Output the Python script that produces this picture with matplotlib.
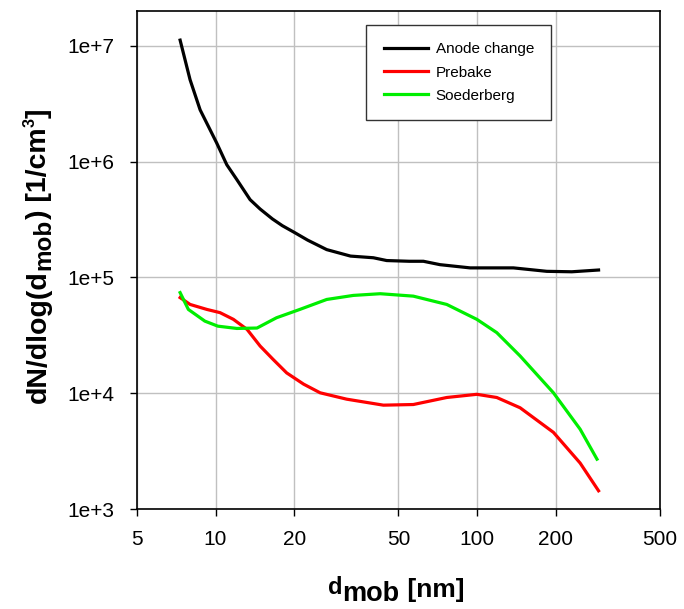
import matplotlib
matplotlib.use("Agg")
import matplotlib.pyplot as plt
from matplotlib.transforms import IdentityTransform

plt.rcParams['font.family'] = ['Liberation Sans', 'DejaVu Sans']

# data
anode_x = [7.32, 7.99, 8.73, 10.1, 11.04, 12.06, 13.55, 14.8, 16.5, 18.0, 20.0, 22.5,
           26.6, 32.8, 40.1, 45.1, 55.0, 62.3, 72.1, 94.0, 137.6, 184.5, 230.0, 291.0]
anode_y = [1.12e7, 5.1e6, 2.8e6, 1.45e6, 9.4e5, 7.0e5, 4.7e5, 3.9e5, 3.2e5, 2.8e5, 2.45e5, 2.1e5,
           1.74e5, 1.53e5, 1.48e5, 1.4e5, 1.38e5, 1.38e5, 1.29e5, 1.21e5, 1.21e5, 1.13e5, 1.12e5, 1.16e5]

prebake_x = [7.32, 7.99, 9.26, 10.4, 11.7, 13.2, 14.8, 16.6, 18.7, 21.7, 25.1, 31.7,
             43.8, 57.0, 76.5, 99.7, 118.8, 145.9, 195.6, 247.4, 291.0]
prebake_y = [6.7e4, 5.85e4, 5.3e4, 4.97e4, 4.35e4, 3.56e4, 2.56e4, 1.96e4, 1.5e4, 1.2e4, 1.01e4, 8.9e3,
             7.9e3, 8.0e3, 9.2e3, 9.8e3, 9.2e3, 7.5e3, 4.6e3, 2.5e3, 1.44e3]

soeder_x = [7.32, 7.87, 9.1, 10.2, 12.06, 14.4, 17.1, 21.0, 26.6, 33.6, 42.6, 57.0,
            76.5, 99.7, 118.8, 145.9, 195.6, 247.4, 287.0]
soeder_y = [7.4e4, 5.3e4, 4.2e4, 3.8e4, 3.63e4, 3.66e4, 4.49e4, 5.3e4, 6.46e4, 7.0e4, 7.24e4, 6.9e4,
            5.85e4, 4.35e4, 3.34e4, 2.1e4, 1.01e4, 4.9e3, 2.7e3]

xticks = [5, 10, 20, 50, 100, 200, 500]
yticks = [1e3, 1e4, 1e5, 1e6, 1e7]
ytick_labels = ['1e+3', '1e+4', '1e+5', '1e+6', '1e+7']

fig = plt.figure(figsize=(6.84, 6.09), dpi=100)
ax = fig.add_axes([0.2, 0.164, 0.765, 0.818])

ax.plot(anode_x, anode_y, color='black', lw=2.3, label='Anode change')
ax.plot(prebake_x, prebake_y, color='#ff0000', lw=2.3, label='Prebake')
ax.plot(soeder_x, soeder_y, color='#00ee00', lw=2.3, label='Soederberg')

ax.set_xscale('log')
ax.set_yscale('log')
ax.set_xlim(5, 500)
ax.set_ylim(1e3, 2e7)
ax.set_xticks(xticks)
ax.set_xticklabels([str(v) for v in xticks])
ax.set_yticks(yticks)
ax.set_yticklabels(ytick_labels)
ax.minorticks_off()
ax.tick_params(direction='out', length=5, width=1, labelsize=15)
ax.tick_params(axis='y', pad=11)
ax.tick_params(axis='x', pad=10)
ax.grid(True, color='#c0c0c0', lw=1)
ax.set_axisbelow(True)
for s in ax.spines.values():
    s.set_linewidth(1.2)

leg = ax.legend(loc='upper left', bbox_to_anchor=(0.438, 0.972), borderaxespad=0,
                fontsize=11, handlelength=2.9, handletextpad=0.5, borderpad=1.15,
                labelspacing=0.6, fancybox=False, framealpha=1, edgecolor='#333333')
leg.get_frame().set_linewidth(1)

# axis titles built from pieces (pixel coords, origin bottom left)
renderer = fig.canvas.get_renderer()
H = 609

def put_pieces(pieces, x, y, rotation):
    for txt, size, shift in pieces:
        if rotation:
            t = fig.text(x + shift, y, txt, fontsize=size, fontweight='bold',
                         rotation=90, rotation_mode='anchor', ha='left', va='baseline',
                         transform=IdentityTransform())
            y += t.get_window_extent(renderer).height
        else:
            t = fig.text(x, y + shift, txt, fontsize=size, fontweight='bold',
                         ha='left', va='baseline', transform=IdentityTransform())
            x += t.get_window_extent(renderer).width

xlabel_pieces = [('d', 17, 3),
                 ('mob', 19.5, -4),
                 (' [nm]', 19, 0)]
put_pieces(xlabel_pieces, 328, H - 597, False)

ylabel_pieces = [('dN/dlog(d', 20.5, 0),
                 ('mob', 17.5, 4),
                 (') [1/cm', 20.5, 0),
                 ('3', 11.5, -11),
                 (']', 20.5, 0)]
put_pieces(ylabel_pieces, 46, H - 403, True)

fig.savefig('out.png', dpi=100)
